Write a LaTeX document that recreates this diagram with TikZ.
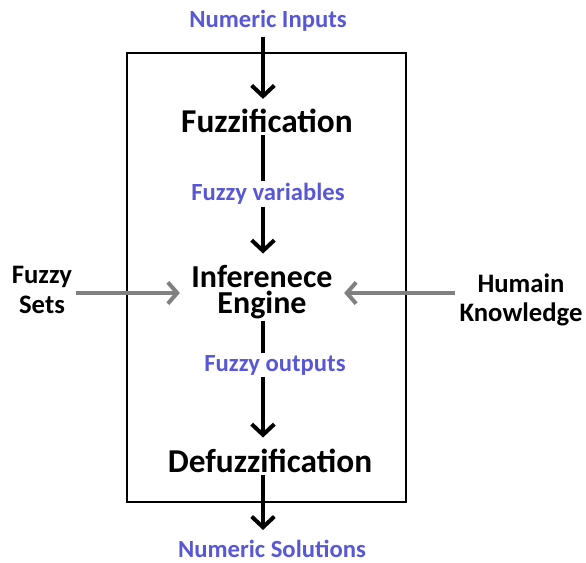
\documentclass[tikz,border=0pt]{standalone}
\usepackage{fontspec}
\setmainfont{Carlito}
\usepackage{tikz}
\usetikzlibrary{arrows.meta}

\definecolor{labelblue}{RGB}{88,88,214}
\definecolor{sidegray}{RGB}{128,128,128}

\begin{document}
\begin{tikzpicture}[x=0.75pt,y=-0.75pt,
    stage/.style={font=\bfseries\fontsize{25}{20}\selectfont, inner sep=1.5pt, align=center},
    flow/.style={font=\bfseries\fontsize{18.5}{20}\selectfont, text=labelblue, inner sep=1.5pt},
    side/.style={font=\bfseries\fontsize{20}{22}\selectfont, align=center, inner sep=1pt},
    pipe/.style={line width=3pt},
    mainarrow/.style={pipe, -{Straight Barb[length=8pt,width=17pt,line width=3pt]}},
    sidearrow/.style={line width=3pt, sidegray, -{Straight Barb[length=7pt,width=16pt,line width=3pt]}}]
\useasboundingbox (0,0) rectangle (586,563);
\draw[line width=1pt] (127,53) rectangle (406,502);
\coordinate (axis) at (263,0);
% stages and flow labels
\node[flow] (inputs) at (268,21) {Numeric Inputs};
\node[stage] (fuzz) at (267,121) {Fuzzification};
\node[flow] (fvars) at (268,194) {Fuzzy variables};
\node[stage, font=\bfseries\fontsize{24}{19.5}\selectfont] (engine) at (262,292) {Inferenece\\Engine};
\node[flow] (fouts) at (275,365) {Fuzzy outputs};
\node[stage] (defuzz) at (270,461) {Defuzzification};
\node[flow] (sols) at (272,549) {Numeric Solutions};
\node[side] (sets) at (42,290) {Fuzzy\\Sets};
\node[side] (know) at (521,300) {Humain\\Knowledge};
% connectors
\draw[mainarrow] ([yshift=-2pt]inputs.south -| axis) -- ([yshift=6pt]fuzz.north -| axis);
\draw[pipe] (fuzz.south -| axis) -- (fvars.north -| axis);
\draw[mainarrow] (fvars.south -| axis) -- ([yshift=7pt]engine.north -| axis);
\draw[pipe] (engine.south -| axis) -- (fouts.north -| axis);
\draw[mainarrow] (fouts.south -| axis) -- ([yshift=7pt]defuzz.north -| axis);
\draw[mainarrow] (defuzz.south -| axis) -- ([yshift=6pt]sols.north -| axis);
\draw[sidearrow] ([xshift=2pt]sets.east |- 0,293) -- ([xshift=-7pt]engine.west |- 0,293);
\draw[sidearrow] ([xshift=-2pt]know.west |- 0,293) -- ([xshift=7pt]engine.east |- 0,293);
\end{tikzpicture}
\end{document}
